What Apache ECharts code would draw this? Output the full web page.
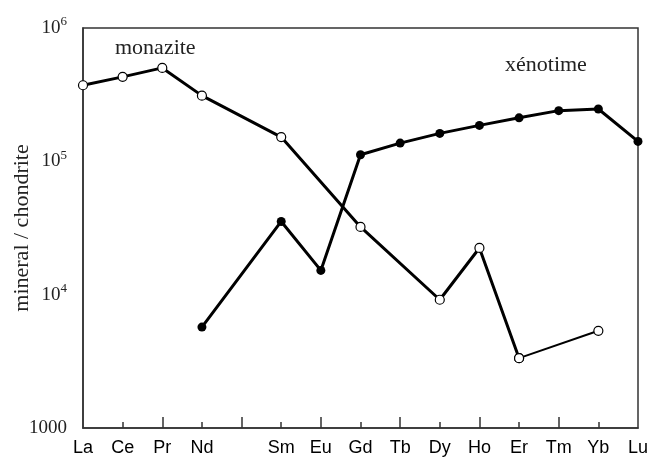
<!DOCTYPE html>
<html><head><meta charset="utf-8">
<script src="https://cdn.jsdelivr.net/npm/echarts@6/dist/echarts.min.js"></script>
<style>html,body{margin:0;padding:0;background:#fff}#c{width:649px;height:457px}</style>
</head><body><div id="c"></div>
<script>
const categories = ['La','Ce','Pr','Nd','','Sm','Eu','Gd','Tb','Dy','Ho','Er','Tm','Yb','Lu'];
const monazite = [372000, 430000, 502000, 311000, null, 152000, null, 32200, null, 9160, 22400, 3340, null, 5360, null];
const xenotime = [null, null, null, 5710, null, 35400, 15200, 112000, 137000, 162000, 186000, 212000, 240000, 247000, 141000];
const yTicks = [1000, 10000, 100000, 1000000];
const yTickLabels = ['1000', '10{s|4}', '10{s|5}', '10{s|6}'];
const labelMonazite = 'monazite';
const labelXenotime = 'xénotime';
const yName = 'mineral / chondrite';

// monazite: thick part up to Er, thin last segment Er -> Yb
const erIdx = categories.indexOf('Er');
const ybIdx = categories.indexOf('Yb');
const monA = monazite.map((v,i)=> i<=erIdx ? v : null);
const monB = monazite.map((v,i)=> (i===erIdx||i===ybIdx) ? v : null);

const serif = '"Liberation Serif","DejaVu Serif",serif';
const sans = '"Liberation Sans",Arial,sans-serif';
const chart = echarts.init(document.getElementById('c'));
chart.setOption({
  animation:false,
  backgroundColor:'#fff',
  grid:{left:83,right:11,top:28,bottom:29,containLabel:false,outerBoundsMode:'none',
        show:true,borderColor:'#333',borderWidth:1.5,backgroundColor:'transparent'},
  xAxis:[{
    type:'category',data:categories,boundaryGap:false,position:'bottom',
    axisLine:{lineStyle:{color:'#333',width:1.5}},
    axisTick:{inside:true,length:6,lineStyle:{color:'#333',width:1.5},interval:(i)=>i%2===1&&i<categories.length-1},
    axisLabel:{color:'#000',fontFamily:sans,fontSize:18,margin:11,interval:0},
    splitLine:{show:false}
  },{
    type:'category',data:categories,boundaryGap:false,position:'bottom',
    axisLine:{show:false},
    axisTick:{inside:true,length:11,lineStyle:{color:'#333',width:1.5},interval:(i)=>i%2===0&&i>0&&i<categories.length-1},
    axisLabel:{show:false},splitLine:{show:false}
  }],
  yAxis:{
    type:'log',logBase:10,min:1000,max:1000000,
    name:yName,nameLocation:'middle',nameGap:50,nameMoveOverlap:false,
    nameTextStyle:{fontFamily:serif,fontSize:22,color:'#222'},
    axisLine:{show:true,lineStyle:{color:'#333',width:1.5}},
    axisTick:{inside:true,length:14,lineStyle:{color:'#333',width:1.5}},
    splitLine:{show:false},
    axisLabel:{
      margin:16,color:'#222',fontFamily:serif,fontSize:19,
      formatter:(v)=>{const k=yTicks.findIndex(t=>Math.abs(t-v)/t<1e-6);return k>=0?yTickLabels[k]:'';},
      rich:{s:{fontFamily:serif,fontSize:13,color:'#222',padding:[0,0,12,0]}}
    }
  },
  graphic:[
    {type:'text',left:115,top:37,style:{text:labelMonazite,fontFamily:serif,fontSize:22,fill:'#222'}},
    {type:'text',left:505,top:54,style:{text:labelXenotime,fontFamily:serif,fontSize:22,fill:'#222'}}
  ],
  series:[
    {type:'line',data:xenotime,connectNulls:true,symbol:'circle',symbolSize:9,
     lineStyle:{color:'#000',width:3},itemStyle:{color:'#000'},z:3},
    {type:'line',data:monA,connectNulls:true,symbol:'circle',symbolSize:9,
     lineStyle:{color:'#000',width:3},itemStyle:{color:'#fff',borderColor:'#000',borderWidth:1.2},z:4},
    {type:'line',data:monB,connectNulls:true,symbol:'circle',symbolSize:9,
     lineStyle:{color:'#000',width:2},itemStyle:{color:'#fff',borderColor:'#000',borderWidth:1.2},z:4}
  ]
});
</script></body></html>
